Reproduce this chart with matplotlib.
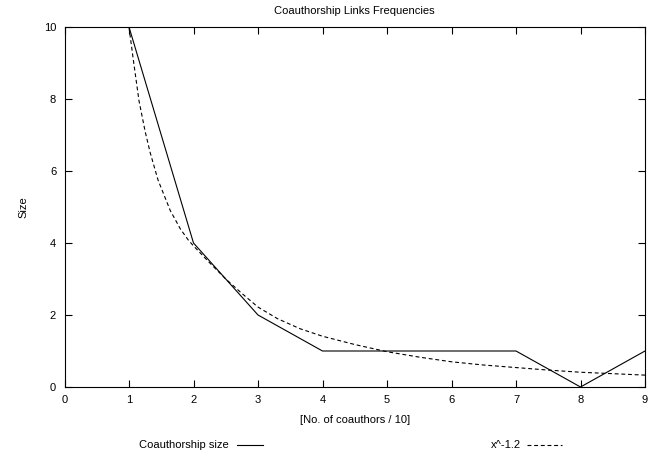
import matplotlib
matplotlib.use("Agg")
import matplotlib.pyplot as plt
from matplotlib.lines import Line2D

plt.rcParams['font.family'] = ['Liberation Sans', 'DejaVu Sans']

# measured data
size_x = [1, 2, 3, 4, 5, 6, 7, 8, 9]
size_y = [10, 4, 2, 1, 1, 1, 1, 0, 1]

# fitted curve
fit_x = [1.0, 1.066, 1.155, 1.25, 1.33, 1.45, 1.64, 1.8, 1.92, 2.0,
         2.25, 2.5, 2.75, 3.0, 3.3, 3.65, 4.0, 4.5, 5.0, 5.5, 6.0,
         6.5, 7.0, 7.5, 8.0, 8.5, 9.0]
fit_y = [10, 9.1, 7.95, 7.1, 6.5, 5.75, 4.9, 4.38, 4.08, 3.92,
         3.45, 3.0, 2.6, 2.22, 1.9, 1.62, 1.41, 1.18, 0.98, 0.83, 0.7,
         0.61, 0.54, 0.47, 0.41, 0.37, 0.33]

xticks = [0, 1, 2, 3, 4, 5, 6, 7, 8, 9]
yticks = [0, 2, 4, 6, 8, 10]

fig = plt.figure(figsize=(6.64, 4.59), dpi=100)
ax = fig.add_axes([64.5/664, 1 - 387/459, (645 - 64.5)/664, (387 - 27)/459])

ax.plot(size_x, size_y, color='black', lw=0.8)
ax.plot(fit_x, fit_y, color='black', lw=0.8, dashes=(3.5, 2.5))

ax.set_xlim(0, 9)
ax.set_ylim(0, 10)
ax.set_xticks(xticks)
ax.set_yticks(yticks)
ax.tick_params(direction='in', top=True, right=True, length=5, width=0.8,
               labelsize=8, pad=6)
for s in ax.spines.values():
    s.set_linewidth(0.8)

ax.set_title('Coauthorship Links Frequencies', fontsize=8, pad=9)
ax.set_xlabel('[No. of coauthors / 10]', fontsize=8, labelpad=7)
ax.set_ylabel('Size', fontsize=8, labelpad=11)

# gnuplot-style key below the plot
ly = 1 - 445/459
fig.text(229/664, ly, 'Coauthorship size', ha='right', va='center', fontsize=8)
fig.add_artist(Line2D([237/664, 263/664], [ly, ly], color='black', lw=0.8))
fig.text(521/664, ly, 'x^-1.2', ha='right', va='center', fontsize=8)
fig.add_artist(Line2D([527/664, 562/664], [ly, ly], color='black', lw=0.8,
                      dashes=(3.5, 2.5)))

fig.savefig('out.png', dpi=100)
